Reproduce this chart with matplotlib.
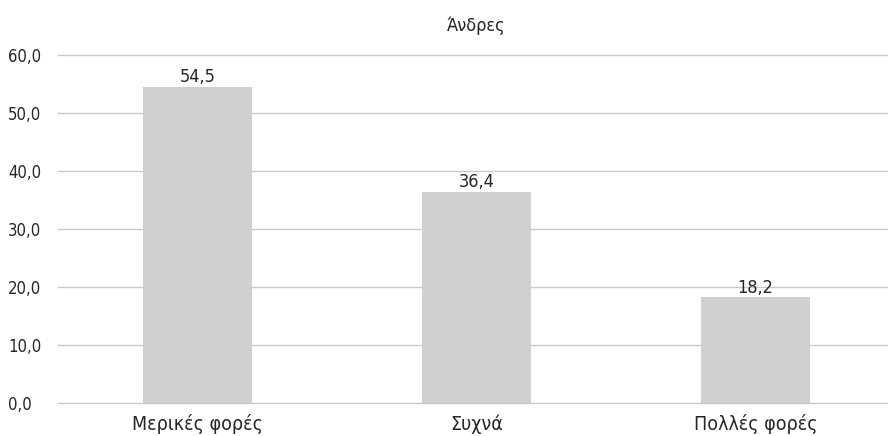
import matplotlib
matplotlib.use("Agg")
import matplotlib.pyplot as plt
from matplotlib.ticker import FuncFormatter

categories = ["Μερικές φορές", "Συχνά", "Πολλές φορές"]
values = [54.5, 36.4, 18.2]
y_ticks = [0, 10, 20, 30, 40, 50, 60]
title = "Άνδρες"

plt.rcParams["font.family"] = ["DejaVu Sans"]
plt.rcParams["font.stretch"] = "condensed"
text_color = "#262626"


def comma(v, pos=None):
    return f"{v:.1f}".replace(".", ",")


fig = plt.figure(figsize=(8.88, 4.36), dpi=100)
ax = fig.add_axes([58 / 888, 33 / 436, 830 / 888, 348 / 436])

x = list(range(len(categories)))
bars = ax.bar(x, values, width=0.39, color="#d0d0d2", zorder=2)

# value labels sit just above each bar
for b, v in zip(bars, values):
    ax.text(b.get_x() + b.get_width() / 2, v + 0.8, comma(v), ha="center", va="baseline",
            fontsize=13, color=text_color)

ax.set_xlim(-0.5, 2.475)
ax.set_ylim(0, 60)
ax.set_yticks(y_ticks)
ax.yaxis.set_major_formatter(FuncFormatter(comma))
ax.set_xticks(x)
ax.set_xticklabels(categories, fontsize=14, color=text_color)
ax.tick_params(axis="y", length=0, pad=36, labelsize=12, labelcolor=text_color)
ax.tick_params(axis="x", length=0, pad=8)
for lbl in ax.get_yticklabels():
    lbl.set_horizontalalignment("left")
ax.grid(axis="y", color="#c9c9c9", linewidth=1, zorder=0)
# keep the baseline and top gridlines from being cut by the axes edge
for gl in ax.get_ygridlines():
    gl.set_clip_on(False)
for s in ax.spines.values():
    s.set_visible(False)

fig.text(476 / 888, 1 - 26 / 436, title, ha="center", va="center", fontsize=13, color=text_color)

fig.savefig("out.png", dpi=100)
